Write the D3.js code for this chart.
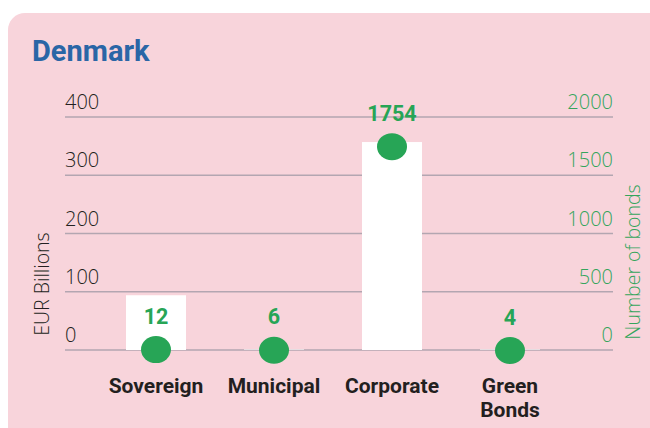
<!DOCTYPE html>
<html><head><meta charset="utf-8">
<script src="https://cdn.jsdelivr.net/npm/d3@7"></script>
<style>
body{margin:0;background:#fff;}
svg{display:block;}
</style></head>
<body>
<svg id="chart" width="650" height="428"></svg>
<script>
const categories = ["Sovereign", "Municipal", "Corporate", "Green Bonds"];
const eurBillions = [94, 1, 357, 1];
const numberOfBonds = [12, 6, 1754, 4];
const leftTicks = [0, 100, 200, 300, 400];
const rightTicks = [0, 500, 1000, 1500, 2000];

const svg = d3.select("#chart");
const green = "#27a556";
const bold = "'Roboto','Open Sans',sans-serif";
const light = "'Open Sans','Lato',sans-serif";

svg.append("rect").attr("x", 8).attr("y", 13).attr("width", 660).attr("height", 440)
  .attr("rx", 17).attr("fill", "#f8d4db");

svg.append("text").attr("x", 32).attr("y", 61).text("Denmark")
  .attr("font-family", bold).attr("font-weight", "bold").attr("font-size", 29)
  .attr("fill", "#2a66a6");

const y = d3.scaleLinear().domain([0, 400]).range([350, 117]);
const y2 = d3.scaleLinear().domain([0, 2000]).range([350, 117]);
const x = d3.scalePoint().domain(categories).range([156, 510]);
const bw = 60;

// gridlines
svg.append("g").selectAll("line").data(leftTicks).join("line")
  .attr("x1", 65).attr("x2", 613).attr("y1", d => y(d)).attr("y2", d => y(d))
  .attr("stroke", "#b3a6b1").attr("stroke-width", 1.5);

// left tick labels
svg.append("g").selectAll("text").data(leftTicks).join("text")
  .attr("x", 65).attr("y", d => y(d) - 8).text(d => d)
  .attr("font-family", light).attr("font-weight", 300).attr("font-size", 20).attr("fill", "#231f20");

// right tick labels
svg.append("g").selectAll("text").data(rightTicks).join("text")
  .attr("x", 613).attr("y", d => y2(d) - 8).attr("text-anchor", "end").text(d => d)
  .attr("font-family", light).attr("font-weight", 300).attr("font-size", 20).attr("fill", "#34a55c");

// axis titles
svg.append("text").attr("transform", "translate(49,284) rotate(-90)").attr("text-anchor", "middle")
  .text("EUR Billions").attr("font-family", light).attr("font-weight", 300).attr("font-size", 19.5).attr("fill", "#231f20");
svg.append("text").attr("transform", "translate(640,262) rotate(-90)").attr("text-anchor", "middle")
  .text("Number of bonds").attr("font-family", light).attr("font-weight", 300).attr("font-size", 19.5).attr("fill", "#34a55c");

// bars
svg.append("g").selectAll("rect").data(categories).join("rect")
  .attr("x", d => x(d) - bw / 2).attr("width", bw)
  .attr("y", (d, i) => y(eurBillions[i])).attr("height", (d, i) => y(0) - y(eurBillions[i]))
  .attr("fill", "#ffffff");

// dots
svg.append("g").selectAll("ellipse").data(categories).join("ellipse")
  .attr("cx", d => x(d)).attr("cy", (d, i) => y2(numberOfBonds[i]) + 1)
  .attr("rx", 15).attr("ry", 13.5).attr("fill", green);

// dot labels
svg.append("g").selectAll("text").data(categories).join("text")
  .attr("x", d => x(d)).attr("y", (d, i) => y2(numberOfBonds[i]) - 25)
  .attr("text-anchor", "middle").text((d, i) => numberOfBonds[i])
  .attr("font-family", bold).attr("font-weight", "bold").attr("font-size", 21.5).attr("fill", green);

// category labels
const cl = svg.append("g").selectAll("text").data(categories).join("text")
  .attr("x", d => x(d)).attr("y", 393).attr("text-anchor", "middle")
  .attr("font-family", bold).attr("font-weight", "bold").attr("font-size", 21).attr("fill", "#231f20");
cl.each(function(d) {
  const words = d === "Green Bonds" ? ["Green", "Bonds"] : [d];
  const t = d3.select(this);
  words.forEach((w, k) => t.append("tspan").attr("x", x(d)).attr("dy", k === 0 ? 0 : 24).text(w));
});
</script>
</body></html>
